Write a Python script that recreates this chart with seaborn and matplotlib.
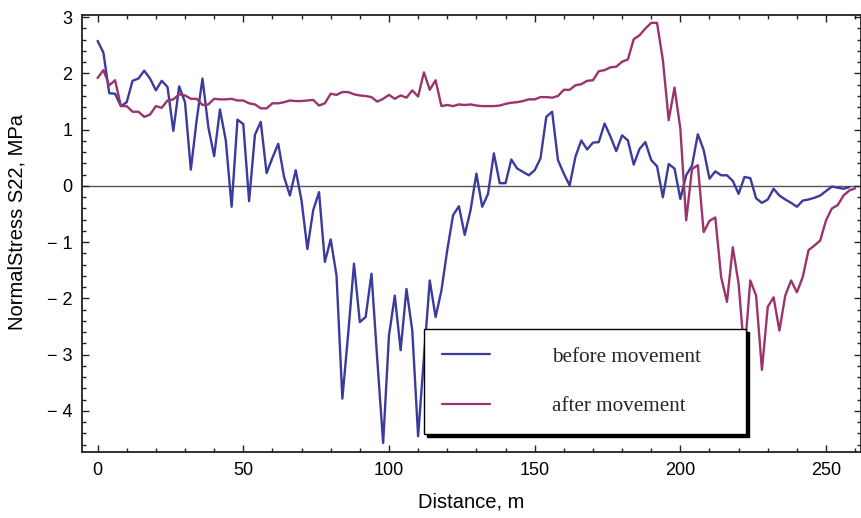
import numpy as np
import pandas as pd
import matplotlib
matplotlib.use("Agg")
import matplotlib.pyplot as plt
from matplotlib.ticker import MultipleLocator, FixedLocator, FixedFormatter
import seaborn as sns

# ---- data ----
x_before = list(range(0, 260, 2))
before = [2.58, 2.37, 1.65, 1.64, 1.42, 1.49, 1.87, 1.91, 2.05, 1.91,
          1.70, 1.87, 1.76, 0.98, 1.77, 1.49, 0.29, 1.17, 1.91, 1.05,
          0.53, 1.36, 0.81, -0.37, 1.18, 1.10, -0.27, 0.91, 1.14, 0.23,
          0.50, 0.75, 0.16, -0.17, 0.28, -0.26, -1.12, -0.43, -0.11, -1.35,
          -0.95, -1.59, -3.78, -2.63, -1.38, -2.42, -2.33, -1.56, -3.10, -4.57,
          -2.66, -1.95, -2.92, -1.83, -2.57, -4.45, -3.05, -1.68, -2.33, -1.86,
          -1.14, -0.52, -0.36, -0.87, -0.43, 0.22, -0.37, -0.14, 0.58, 0.05,
          0.05, 0.47, 0.31, 0.25, 0.19, 0.28, 0.49, 1.23, 1.32, 0.46,
          0.22, 0.01, 0.52, 0.81, 0.65, 0.77, 0.78, 1.11, 0.88, 0.62,
          0.90, 0.81, 0.38, 0.66, 0.78, 0.46, 0.35, -0.20, 0.39, 0.31,
          -0.23, 0.19, 0.36, 0.92, 0.64, 0.13, 0.26, 0.19, 0.19, 0.09,
          -0.14, 0.16, 0.14, -0.22, -0.30, -0.24, -0.05, -0.17, -0.24, -0.30,
          -0.37, -0.26, -0.24, -0.21, -0.17, -0.09, -0.01, -0.03, -0.05, -0.02]

x_after = list(range(0, 262, 2))
after = [1.92, 2.06, 1.79, 1.88, 1.42, 1.42, 1.32, 1.32, 1.23, 1.27,
         1.42, 1.39, 1.52, 1.54, 1.63, 1.61, 1.55, 1.55, 1.44, 1.45,
         1.55, 1.54, 1.54, 1.55, 1.52, 1.52, 1.47, 1.45, 1.38, 1.38,
         1.47, 1.47, 1.49, 1.52, 1.51, 1.51, 1.52, 1.53, 1.43, 1.47,
         1.64, 1.62, 1.67, 1.67, 1.63, 1.61, 1.60, 1.58, 1.50, 1.55,
         1.62, 1.55, 1.61, 1.57, 1.70, 1.59, 2.02, 1.71, 1.88, 1.42,
         1.44, 1.42, 1.45, 1.44, 1.45, 1.43, 1.42, 1.42, 1.42, 1.43,
         1.46, 1.48, 1.49, 1.51, 1.54, 1.54, 1.58, 1.58, 1.57, 1.60,
         1.71, 1.71, 1.79, 1.81, 1.87, 1.88, 2.04, 2.06, 2.11, 2.12,
         2.21, 2.25, 2.61, 2.68, 2.80, 2.90, 2.90, 2.24, 1.17, 1.75,
         1.02, -0.61, 0.30, 0.37, -0.82, -0.62, -0.56, -1.62, -2.06, -1.09,
         -1.74, -3.00, -1.68, -1.95, -3.27, -2.15, -1.98, -2.57, -1.95, -1.68,
         -1.89, -1.62, -1.14, -1.06, -0.97, -0.61, -0.40, -0.34, -0.17, -0.08,
         -0.04]

series_names = ["before movement", "after movement"]
y_ticks = [-4, -3, -2, -1, 0, 1, 2, 3]
y_tick_labels = ["\u2212 4", "\u2212 3", "\u2212 2", "\u2212 1", "0", "1", "2", "3"]
x_ticks = [0, 50, 100, 150, 200, 250]

df = pd.concat([
    pd.DataFrame({"Distance": x_before, "Stress": before, "state": series_names[0]}),
    pd.DataFrame({"Distance": x_after, "Stress": after, "state": series_names[1]}),
], ignore_index=True)

# ---- style ----
sns.set_style("ticks")
plt.rcParams["font.family"] = ["Liberation Sans", "DejaVu Sans"]

fig = plt.figure(figsize=(8.62, 5.18), dpi=100)
ax = fig.add_axes([82 / 862, 66 / 518, 779 / 862, 437 / 518])

palette = {series_names[0]: "#3b3b9e", series_names[1]: "#9b346c"}
sns.lineplot(data=df, x="Distance", y="Stress", hue="state", palette=palette,
             estimator=None, sort=False, linewidth=1.7, ax=ax, legend=True)

ax.axhline(0, color="#555555", linewidth=1.0, zorder=0)

ax.set_xlim(-5.35, 262)
ax.set_ylim(-4.73, 3.04)

ax.xaxis.set_major_locator(FixedLocator(x_ticks))
ax.xaxis.set_minor_locator(MultipleLocator(10))
ax.yaxis.set_major_locator(FixedLocator(y_ticks))
ax.yaxis.set_major_formatter(FixedFormatter(y_tick_labels))
ax.yaxis.set_minor_locator(MultipleLocator(0.2))

ax.tick_params(which="both", direction="in", top=True, right=True,
               color="#222222", width=1.0)
ax.tick_params(which="major", length=5, labelsize=13, pad=7, labelcolor="black")
ax.tick_params(which="minor", length=3)

for s in ax.spines.values():
    s.set_color("#222222")
    s.set_linewidth(1.3)

ax.set_xlabel("Distance, m", fontsize=14.5, color="black")
ax.set_ylabel("NormalStress S22, MPa", fontsize=14.5, color="black")
ax.xaxis.set_label_coords(0.5, -0.092)
ax.yaxis.set_label_coords(-0.071, 0.526)

handles, labels = ax.get_legend_handles_labels()
leg = ax.legend(handles, labels, loc="lower left",
                bbox_to_anchor=(0.439, 0.041, 0.414, 0.236), mode="expand",
                borderaxespad=0, frameon=True, fancybox=False,
                shadow={"color": "black", "alpha": 1.0, "ox": 2.5, "oy": -2.5}
                if False else {"color": "black", "alpha": 1.0},
                prop={"family": "Liberation Serif", "size": 15.2},
                handlelength=2.3, handletextpad=2.9, borderpad=0.85,
                labelspacing=1.4)
leg.get_frame().set_edgecolor("black")
leg.get_frame().set_linewidth(1.0)
leg.get_frame().set_alpha(1.0)
for line in leg.get_lines():
    line.set_linewidth(1.6)

fig.savefig("out.png", dpi=100)
